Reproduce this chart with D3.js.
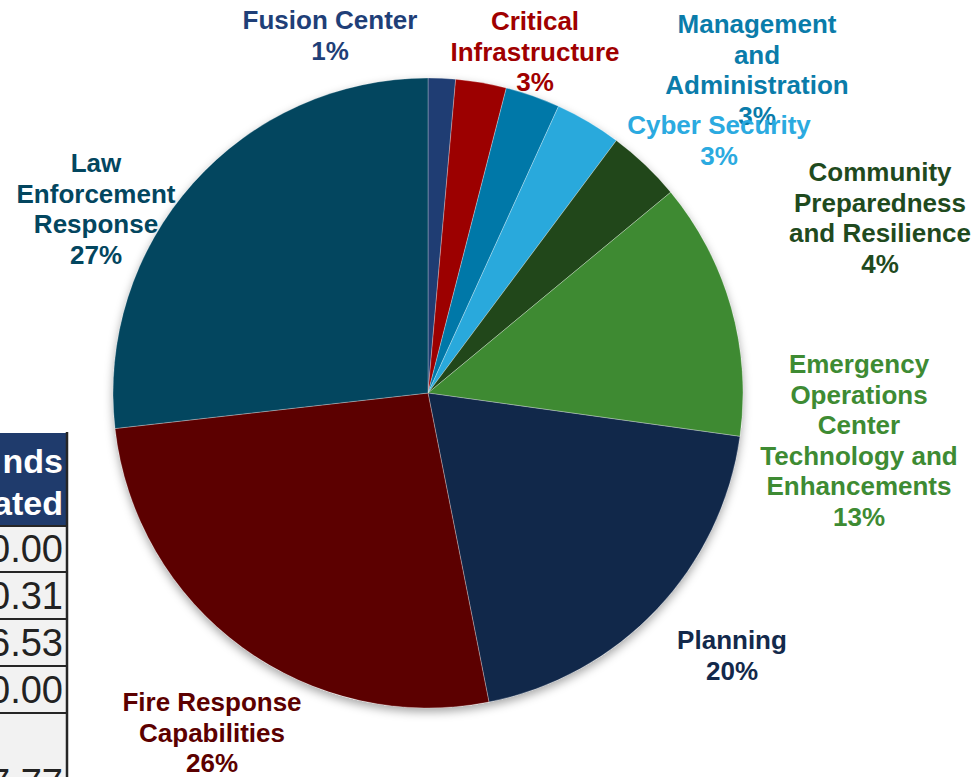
<!DOCTYPE html>
<html>
<head>
<meta charset="utf-8">
<script src="https://cdn.jsdelivr.net/npm/d3@7"></script>
<style>
  html, body { margin: 0; padding: 0; background: #ffffff; overflow: hidden; }
  svg { display: block; }
</style>
</head>
<body>
<svg id="chart" width="978" height="777"></svg>
<script>
// ---------- DATA ----------
const categories = [
  "Fusion Center",
  "Critical Infrastructure",
  "Management and Administration",
  "Cyber Security",
  "Community Preparedness and Resilience",
  "Emergency Operations Center Technology and Enhancements",
  "Planning",
  "Fire Response Capabilities",
  "Law Enforcement Response"
];
const labelLines = [
  ["Fusion Center"],
  ["Critical", "Infrastructure"],
  ["Management", "and", "Administration"],
  ["Cyber Security"],
  ["Community", "Preparedness", "and Resilience"],
  ["Emergency", "Operations", "Center", "Technology and", "Enhancements"],
  ["Planning"],
  ["Fire Response", "Capabilities"],
  ["Law", "Enforcement", "Response"]
];
const shares = [1.4, 2.6, 2.8, 3.4, 3.8, 13.2, 19.7, 26.3, 26.8];

// partial table visible at the left edge
const tableHeader = ["nds", "ated"];
const tableValues = ["0.00", "0.31", "6.53", "0.00", "", "7.77"];

// ---------- STYLE / LAYOUT ----------
const sliceColors = ["#1F3D73", "#9C0000", "#0078A8", "#29A9DC", "#21471A", "#3E8A32", "#11284A", "#5C0000", "#03465F"];
const labelColors = ["#1F3F78", "#A00000", "#0A7CAA", "#2BAAE0", "#1F4A1E", "#3E8B33", "#13294B", "#5C0000", "#03465F"];
const labelAnchors = [
  [330, 29], [535, 30], [757, 33], [719, 134], [880, 181],
  [859, 373], [732, 649], [212, 711], [96, 172]
];
const lineH = 30.6;
const cx = 428, cy = 393, R = 315;
const font = "'Liberation Sans', Arial, Helvetica, sans-serif";

const svg = d3.select("#chart");

// ---------- TABLE FRAGMENT ----------
const tbl = svg.append("g");
const tRight = 67;
tbl.append("rect").attr("x", -10).attr("y", 433).attr("width", tRight + 10).attr("height", 92).attr("fill", "#1F3B6C");
const hdrY = [473, 515];
tableHeader.forEach((t, i) => {
  tbl.append("text").attr("x", 63).attr("y", hdrY[i]).attr("text-anchor", "end")
    .attr("font-family", font).attr("font-weight", "bold").attr("font-size", 34)
    .attr("fill", "#ffffff").text(t);
});
const rowTops = [526, 572, 619, 666, 713];
const rowBottoms = [572, 619, 666, 713, 800];
const rowBase = [562, 609, 656, 703, null, 796];
rowTops.forEach((y0, i) => {
  tbl.append("rect").attr("x", -10).attr("y", y0).attr("width", tRight + 10).attr("height", rowBottoms[i] - y0)
    .attr("fill", "#F2F2F2").attr("stroke", "#262626").attr("stroke-width", 2);
});
tableValues.forEach((v, i) => {
  if (!v) return;
  tbl.append("text").attr("x", 63).attr("y", rowBase[i]).attr("text-anchor", "end")
    .attr("font-family", font).attr("font-size", 38).attr("fill", "#222222").text(v);
});
tbl.append("line").attr("x1", tRight).attr("x2", tRight).attr("y1", 432).attr("y2", 777)
  .attr("stroke", "#262626").attr("stroke-width", 2.5);

// ---------- PIE ----------
const defs = svg.append("defs");
const f = defs.append("filter").attr("id", "shadow").attr("x", "-20%").attr("y", "-20%").attr("width", "140%").attr("height", "140%");
f.append("feDropShadow").attr("dx", 0).attr("dy", 4).attr("stdDeviation", 5)
  .attr("flood-color", "#000").attr("flood-opacity", 0.35);

const pie = d3.pie().sort(null).value(d => d).startAngle(0).endAngle(2 * Math.PI);
const arc = d3.arc().innerRadius(0).outerRadius(R);
const arcs = pie(shares);

const pg = svg.append("g").attr("transform", `translate(${cx},${cy})`);
pg.append("circle").attr("r", R).attr("fill", "#ffffff").attr("filter", "url(#shadow)");
pg.selectAll("path.slice").data(arcs).enter().append("path")
  .attr("class", "slice")
  .attr("d", arc)
  .attr("fill", (d, i) => sliceColors[i])
  .attr("stroke", "rgba(255,255,255,0.35)")
  .attr("stroke-width", 0.8);

// ---------- LABELS ----------
const lg = svg.append("g");
arcs.forEach((a, i) => {
  const lines = labelLines[i].concat([Math.round(shares[i]) + "%"]);
  const [lx, ly] = labelAnchors[i];
  const t = lg.append("text")
    .attr("font-family", font).attr("font-weight", "bold").attr("font-size", 26)
    .attr("fill", labelColors[i]).attr("text-anchor", "middle");
  lines.forEach((ln, j) => {
    t.append("tspan").attr("x", lx).attr("y", ly + j * lineH).text(ln);
  });
});
</script>
</body>
</html>
